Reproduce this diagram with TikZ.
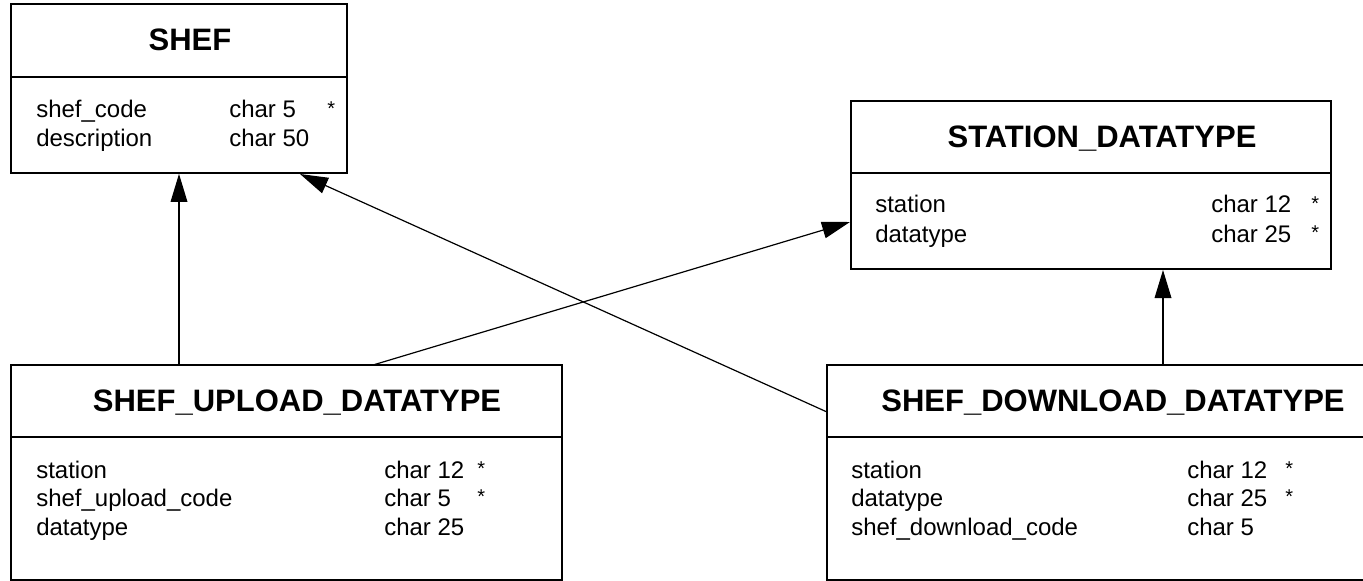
\documentclass[tikz,border=0pt]{standalone}
\usepackage{fontspec}
\setmainfont{Liberation Sans}
\usetikzlibrary{arrows.meta}
\newcommand{\px}{0.75pt}

\begin{document}
\begin{tikzpicture}[x=\px, y=-\px,
    table/.style={draw, rectangle, line width=1.3pt, inner sep=0pt},
    rule/.style={line width=1.3pt},
    title/.style={anchor=base, inner sep=0pt, font=\fontsize{23.25}{28}\selectfont\bfseries},
    row/.style={anchor=base west, inner sep=0pt, font=\fontsize{18}{22}\selectfont},
    keymark/.style={anchor=base west, inner sep=0pt, font=\fontsize{15}{18}\selectfont, yshift=2pt},
    link/.style={line width=0.9pt, -{Triangle[length=21pt, width=12.5pt]}}]
  \useasboundingbox (0,0) rectangle (1363,581);
  \clip (0,0) rectangle (1363,581);

  % SHEF
  \node[table, minimum width=336*\px, minimum height=169*\px] (shef) at (179,88.5) {};
  \draw[rule] (11,77) -- (347,77);
  \node[title] (sheft) at (190,51) {SHEF};
  \foreach \f/\t/\k [count=\i] in {shef\_code/char 5/*, description/char 50/}
  {
    \node[row] (shefa\i) at (36,89+29*\i) {\f};
    \node[row] (shefb\i) at (229,89+29*\i) {\t};
    \node[keymark] (shefc\i) at (327,89+29*\i) {\k};
  }

  % STATION_DATATYPE
  \node[table, minimum width=480*\px, minimum height=168*\px] (station) at (1091,185) {};
  \draw[rule] (851,173) -- (1331,173);
  \node[title] (stationt) at (1102,147.5) {STATION\_DATATYPE};
  \foreach \f/\t/\k [count=\i] in {station/char 12/*, datatype/char 25/*}
  {
    \node[row] (stationa\i) at (875,184+29*\i) {\f};
    \node[row] (stationb\i) at (1211,184+29*\i) {\t};
    \node[keymark] (stationc\i) at (1311,184+29*\i) {\k};
  }

  % SHEF_UPLOAD_DATATYPE
  \node[table, minimum width=551*\px, minimum height=215*\px] (upload) at (286.5,472.5) {};
  \draw[rule] (11,437) -- (562,437);
  \node[title] (uploadt) at (297,411.5) {SHEF\_UPLOAD\_DATATYPE};
  \foreach \f/\t/\k [count=\i] in {station/char 12/*, shef\_upload\_code/char 5/*, datatype/char 25/}
  {
    \node[row] (uploada\i) at (36,449.5+28.5*\i) {\f};
    \node[row] (uploadb\i) at (384,449.5+28.5*\i) {\t};
    \node[keymark] (uploadc\i) at (477,449.5+28.5*\i) {\k};
  }

  % SHEF_DOWNLOAD_DATATYPE
  \node[table, minimum width=553*\px, minimum height=215*\px] (download) at (1103.5,472.5) {};
  \draw[rule] (827,437) -- (1380,437);
  \node[title] (downloadt) at (1113,411.5) {SHEF\_DOWNLOAD\_DATATYPE};
  \foreach \f/\t/\k [count=\i] in {station/char 12/*, datatype/char 25/*, shef\_download\_code/char 5/}
  {
    \node[row] (downloada\i) at (851,449.5+28.5*\i) {\f};
    \node[row] (downloadb\i) at (1187,449.5+28.5*\i) {\t};
    \node[keymark] (downloadc\i) at (1285,449.5+28.5*\i) {\k};
  }

  % connector ends
  \coordinate (upout) at (373,365);
  \coordinate (stin) at (850,222);
  \coordinate (dnout) at (827,412);
  \coordinate (shin) at (300,174);
  \coordinate (dnup) at (1163,365);
  \coordinate (stup) at (1163,270);

  \draw[link] (upload.north -| shef.south) -- (shef.south);
  \draw[link] (upout) -- (stin);
  \draw[link] (dnout) -- (shin);
  \draw[link] (dnup) -- (stup);
\end{tikzpicture}
\end{document}
